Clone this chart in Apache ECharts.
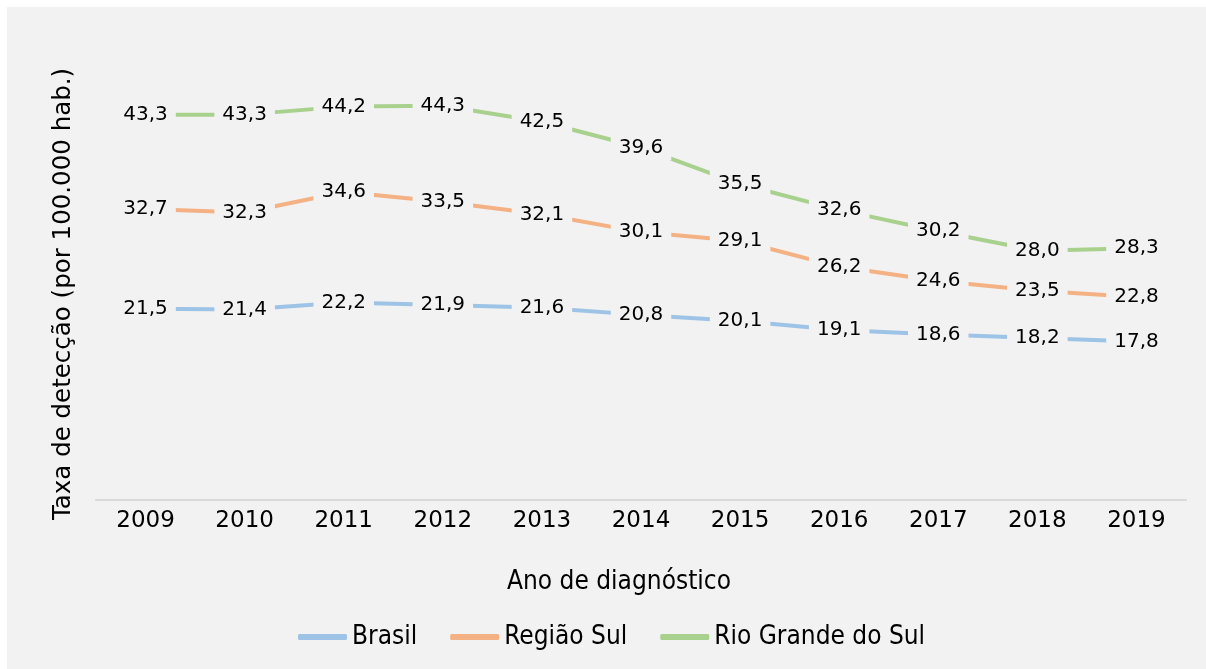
<!DOCTYPE html>
<html>
<head>
<meta charset="utf-8">
<script src="https://cdn.jsdelivr.net/npm/echarts@6/dist/echarts.min.js"></script>
<style>
html,body{margin:0;padding:0;background:#fff;}
#c{width:1206px;height:669px;}
</style>
</head>
<body>
<div id="c"></div>
<script>
var years = ['2009','2010','2011','2012','2013','2014','2015','2016','2017','2018','2019'];
var brasil = [21.5,21.4,22.2,21.9,21.6,20.8,20.1,19.1,18.6,18.2,17.8];
var regiaoSul = [32.7,32.3,34.6,33.5,32.1,30.1,29.1,26.2,24.6,23.5,22.8];
var rioGrandeDoSul = [43.3,43.3,44.2,44.3,42.5,39.6,35.5,32.6,30.2,28.0,28.3];
var seriesNames = ['Brasil','Região Sul','Rio Grande do Sul'];
var colors = ['#9dc3e6','#f4b183','#a9d18e'];
var xTitle = 'Ano de diagnóstico';
var yTitle = 'Taxa de detecção (por 100.000 hab.)';

var bg = '#f2f2f2';
var labelFont = 'DejaVu Sans';
var narrowFont = "'Liberation Sans Narrow','DejaVu Sans Condensed',sans-serif";

function mk(name, data, color){
  return {
    name: name, type: 'line', data: data,
    symbol: 'circle', symbolSize: 1,
    itemStyle: {color: color},
    lineStyle: {color: color, width: 4},
    emphasis: {disabled: true},
    label: {
      show: true, position: 'inside',
      formatter: function(p){ return p.value.toFixed(1).replace('.', ','); },
      color: '#000', fontFamily: labelFont, fontSize: 20,
      backgroundColor: bg, padding: [3, 8]
    }
  };
}

var chart = echarts.init(document.getElementById('c'), null, {renderer: 'canvas'});
chart.setOption({
  animation: false,
  backgroundColor: '#ffffff',
  color: colors,
  graphic: [
    {type: 'rect', z: -10, shape: {x: 7, y: 7, width: 1199, height: 662}, style: {fill: bg}},
    {type: 'text', x: 619, y: 582, style: {text: xTitle, fill: '#000', font: '26px ' + narrowFont, textAlign: 'center', textVerticalAlign: 'middle'}},
    {type: 'text', x: 64, y: 294, rotation: Math.PI/2, style: {text: yTitle, fill: '#000', font: '24.5px ' + labelFont, textAlign: 'center', textVerticalAlign: 'middle'}}
  ],
  grid: {left: 96, right: 20, top: 55, bottom: 169, containLabel: false},
  legend: {
    left: 298, top: 624, padding: 0,
    itemWidth: 49, itemHeight: 6, itemGap: 33,
    icon: 'roundRect',
    textStyle: {color: '#000', fontFamily: narrowFont, fontSize: 26},
    data: seriesNames
  },
  xAxis: {
    type: 'category', data: years, boundaryGap: true,
    axisLine: {lineStyle: {color: '#d9d9d9', width: 2}},
    axisTick: {show: false},
    axisLabel: {color: '#000', fontFamily: labelFont, fontSize: 23, margin: 10}
  },
  yAxis: {
    type: 'value', min: 0, max: 50, interval: 10,
    axisLine: {show: false}, axisTick: {show: false}, axisLabel: {show: false},
    splitLine: {show: false}
  },
  series: [
    mk(seriesNames[0], brasil, colors[0]),
    mk(seriesNames[1], regiaoSul, colors[1]),
    mk(seriesNames[2], rioGrandeDoSul, colors[2])
  ]
});
</script>
</body>
</html>
